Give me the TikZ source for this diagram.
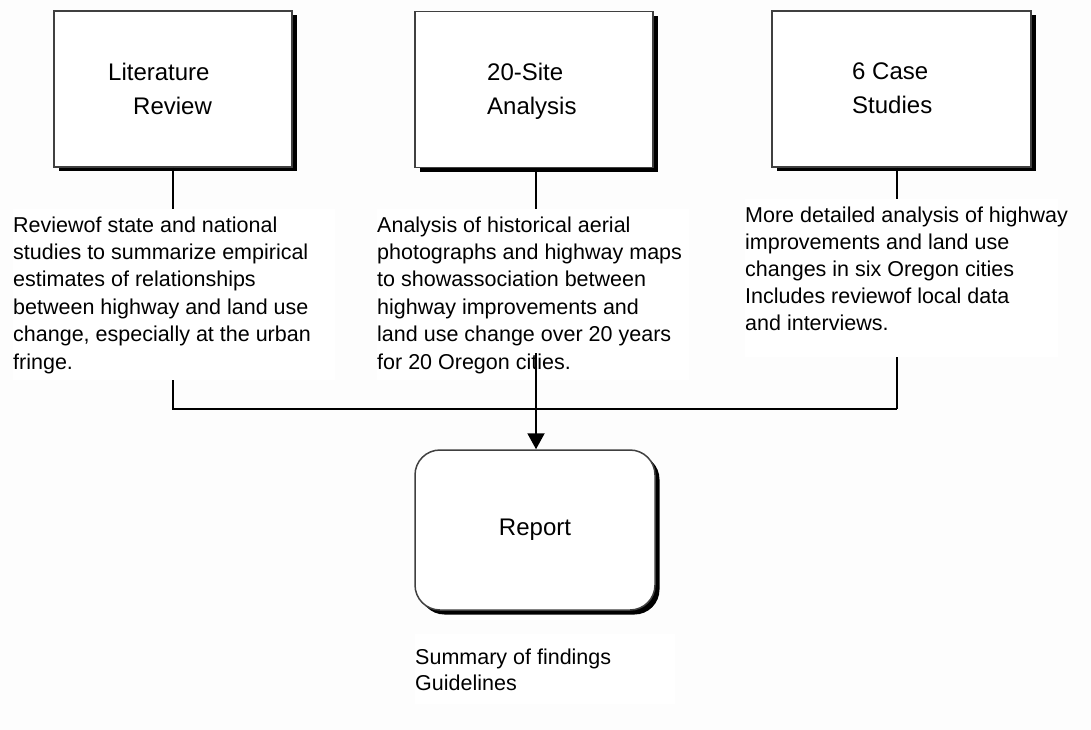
\documentclass[tikz,border=0pt]{standalone}
\usepackage{fontspec}
\setmainfont{Liberation Sans}
\usetikzlibrary{arrows.meta,shadows}
\tikzset{
  boxshape/.style={draw=black!75, line width=1.5pt, fill=white, inner sep=0pt,
    minimum width=238pt, minimum height=156pt,
    drop shadow={shadow xshift=4.5pt, shadow yshift=-4.5pt, fill=black, opacity=1}},
  title/.style={anchor=base west, inner sep=0pt, font=\fontsize{24}{34}\selectfont},
  body/.style={anchor=base west, inner xsep=0pt, inner ysep=7pt, fill=white,
    font=\fontsize{21.5}{27.4}\selectfont},
  conn/.style={line width=2pt, black},
}
\begin{document}
\begin{tikzpicture}[x=1pt,y=-1pt]
\fill[white!99.4!black] (0,0) rectangle (1091,730);
\useasboundingbox (0,0) rectangle (1091,730);

% boxes
\node[boxshape] (b1) at (173,89) {};
\node[boxshape] (b2) at (534,89.5) {};
\node[boxshape, minimum width=259pt] (b3) at (901.5,89) {};
\node[boxshape, rounded corners=25pt, minimum width=240pt, minimum height=160pt,
      font=\fontsize{24}{30}\selectfont] (rep) at (535,530) {Report};

% titles
\node[title] (t1) at (108,81) {\parbox[t]{150pt}{Literature\\\hspace*{25pt}Review}};
\node[title] (t2) at (487,81) {\parbox[t]{150pt}{20-Site\\Analysis}};
\node[title] (t3) at (852,80) {\parbox[t]{150pt}{6 Case\\Studies}};

% connector coordinates
\coordinate (j1) at (173,409);
\coordinate (j2) at (536,409);
\coordinate (j3) at (897,409);
\coordinate (a2) at (536,353);

% connectors (under the text blocks)
\draw[conn] (j1 |- b1.south) -- (j1) -- (j3);
\draw[conn] (j3 |- b3.south) -- (j3);
\draw[conn] (j2 |- b2.south) -- (j2);

% text blocks
\node[body] (d1) at (13,232) {\parbox[t]{322pt}{\raggedright
Reviewof state and national\\
studies to summarize empirical\\
estimates of relationships\\
between highway and land use\\
change, especially at the urban\\
fringe.}};
\node[body] (d2) at (377,232) {\parbox[t]{312pt}{\raggedright
Analysis of historical aerial\\
photographs and highway maps\\
to showassociation between\\
highway improvements and\\
land use change over 20 years\\
for 20 Oregon cities.}};
\node[body, font=\fontsize{21.5}{27}\selectfont] (d3) at (745,222) {\parbox[t]{313pt}{\raggedright
\mbox{More detailed analysis of highway}\\
improvements and land use\\
changes in six Oregon cities\\
Includes reviewof local data\\
and interviews.\par\vspace*{20pt}}};
\node[body, font=\fontsize{21.5}{26}\selectfont, inner ysep=14pt] (d4) at (415,664) {\parbox[t]{260pt}{\raggedright
Summary of findings\\
Guidelines}};

% arrow into the report (over the text)
\draw[conn, -{Triangle[width=17pt,length=16pt]}] (a2) -- (a2 |- rep.north);
\end{tikzpicture}
\end{document}
